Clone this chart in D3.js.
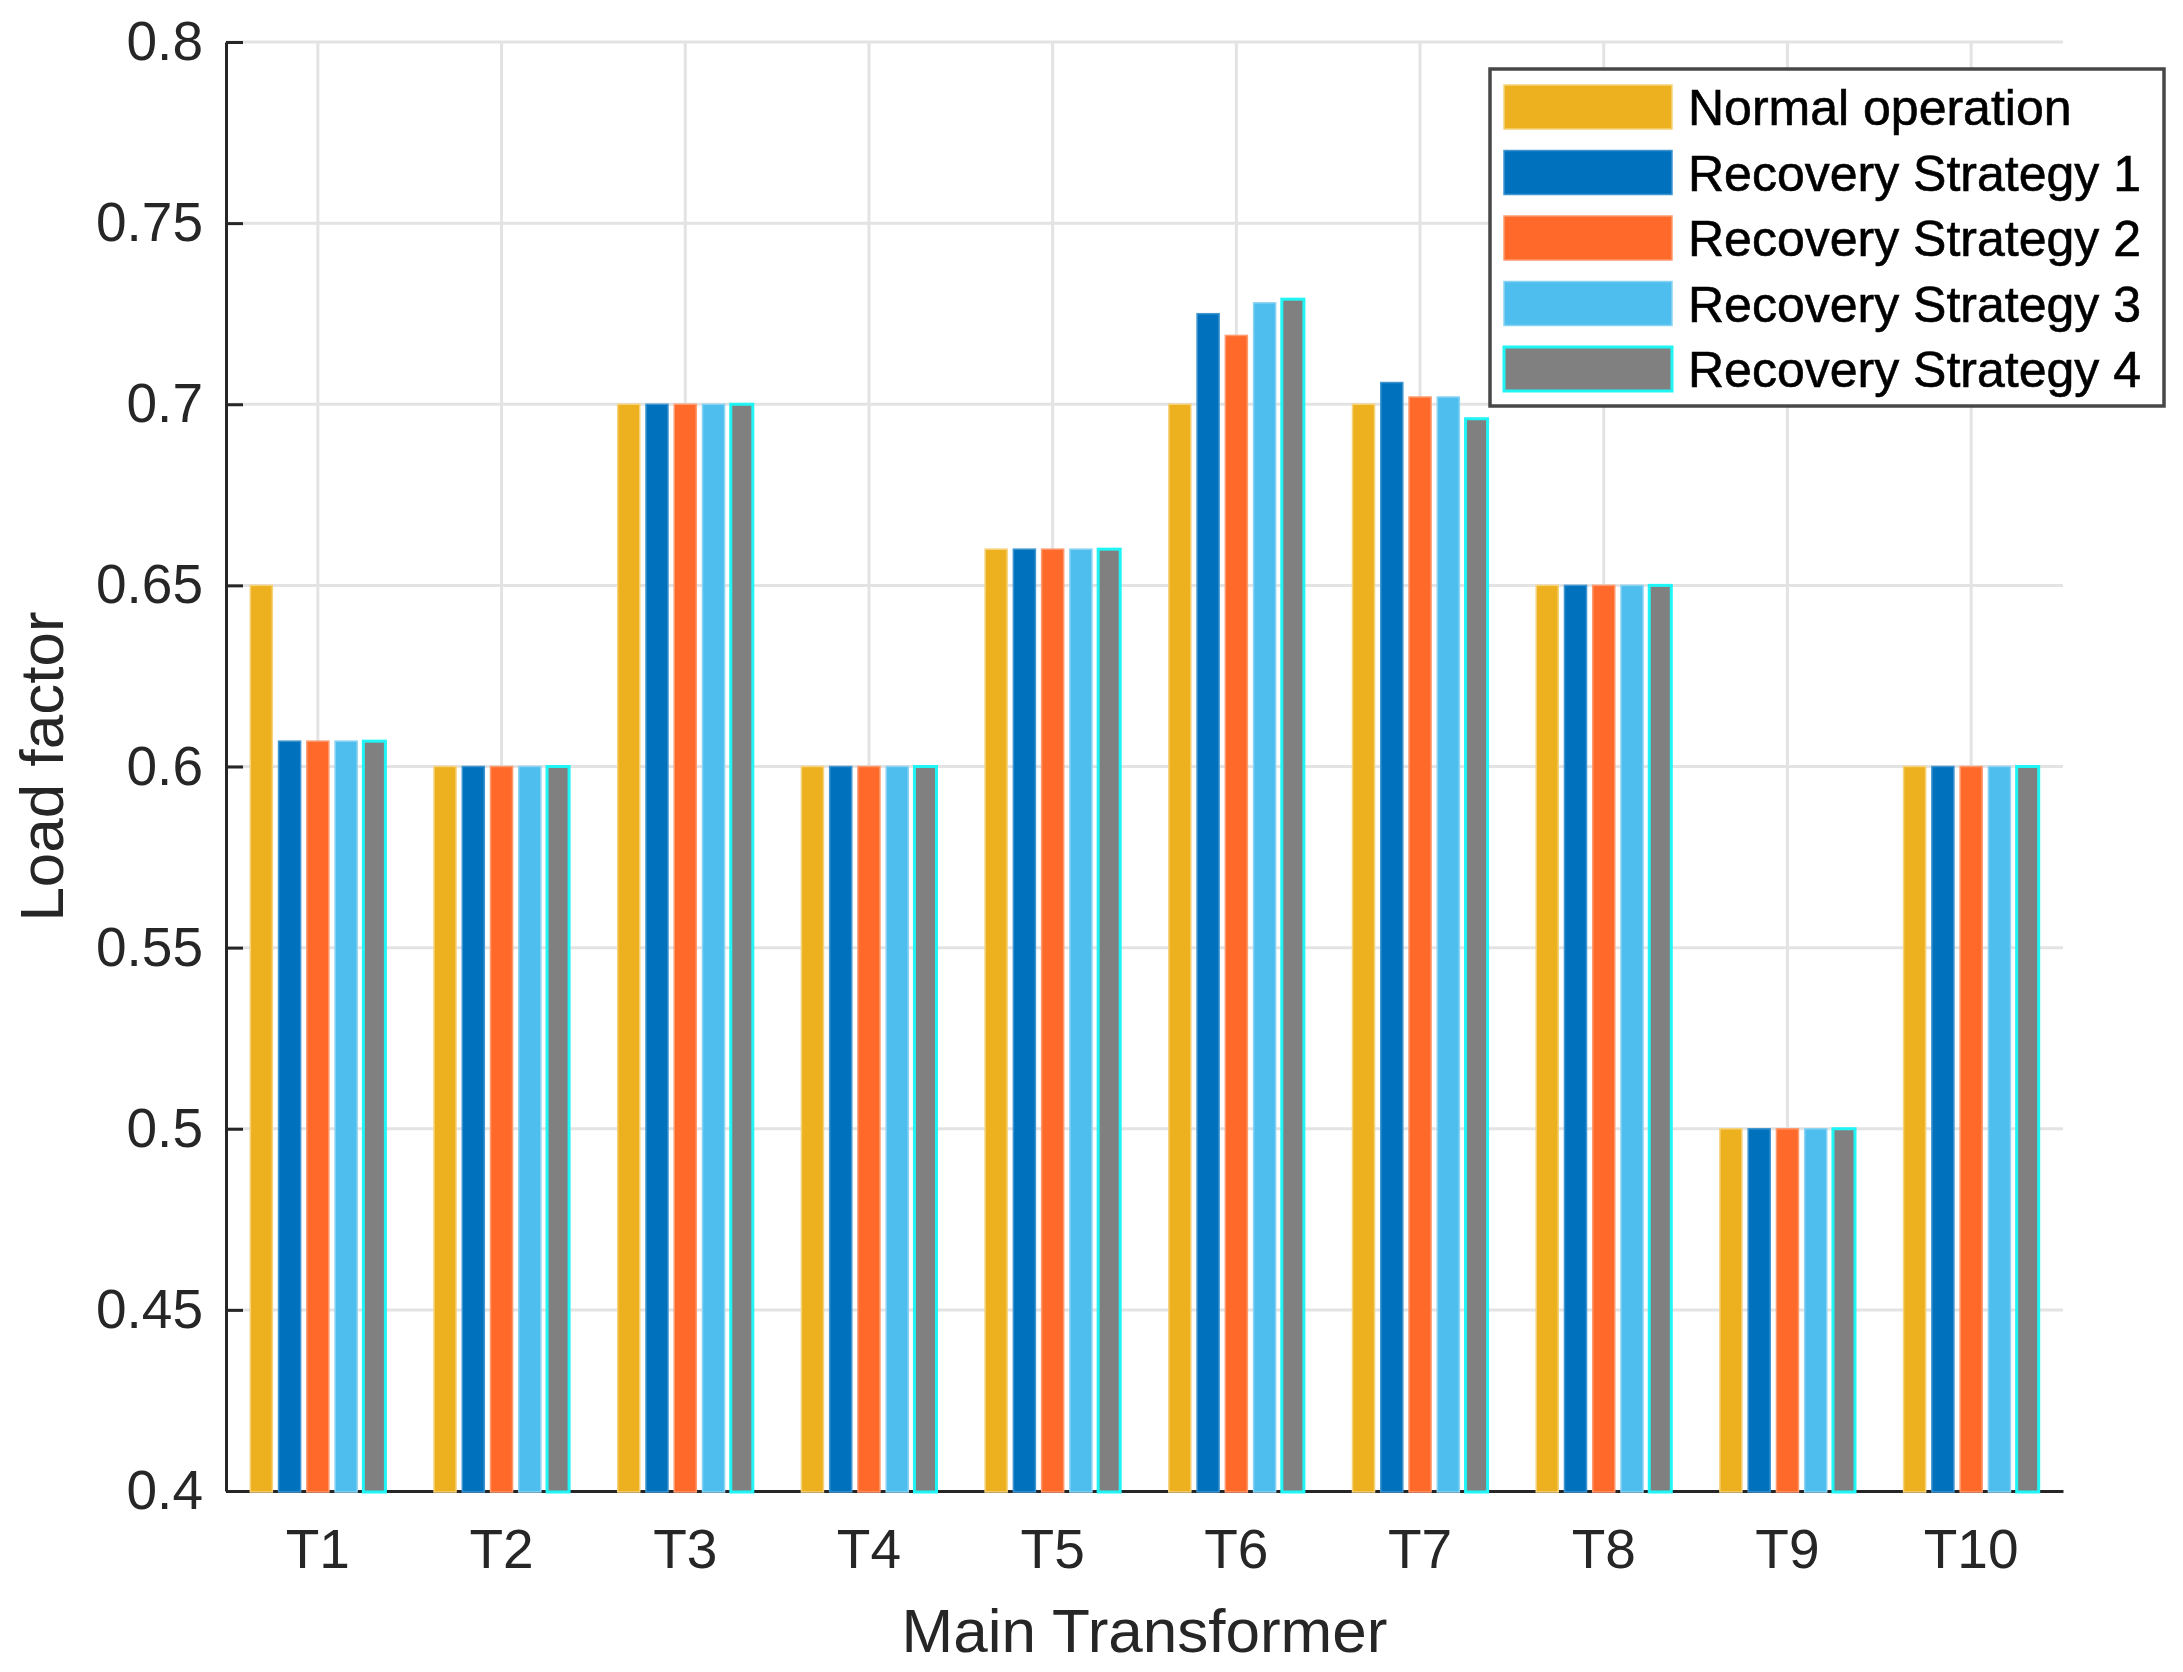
<!DOCTYPE html>
<html>
<head>
<meta charset="utf-8">
<script src="https://cdn.jsdelivr.net/npm/d3@7"></script>
<style>
  html, body { margin: 0; padding: 0; background: #fff; }
  svg { display: block; font-family: "Liberation Sans", Arial, Helvetica, sans-serif; }
</style>
</head>
<body>
<div id="chart"></div>
<script>
// data
var categories = ["T1", "T2", "T3", "T4", "T5", "T6", "T7", "T8", "T9", "T10"];
var seriesNames = ["Normal operation", "Recovery Strategy 1", "Recovery Strategy 2",
                   "Recovery Strategy 3", "Recovery Strategy 4"];
var normalOp  = [0.650, 0.600, 0.700, 0.600, 0.660, 0.700, 0.700, 0.650, 0.500, 0.600];
var strategy1 = [0.607, 0.600, 0.700, 0.600, 0.660, 0.725, 0.706, 0.650, 0.500, 0.600];
var strategy2 = [0.607, 0.600, 0.700, 0.600, 0.660, 0.719, 0.702, 0.650, 0.500, 0.600];
var strategy3 = [0.607, 0.600, 0.700, 0.600, 0.660, 0.728, 0.702, 0.650, 0.500, 0.600];
var strategy4 = [0.607, 0.600, 0.700, 0.600, 0.660, 0.729, 0.696, 0.650, 0.500, 0.600];
var yTicks = [0.4, 0.45, 0.5, 0.55, 0.6, 0.65, 0.7, 0.75, 0.8];

var allSeries = [normalOp, strategy1, strategy2, strategy3, strategy4];
var colors = ["#EDB120", "#0072BD", "#FF6A2B", "#4DBEEE", "#808080"];
var edges  = ["#F6D27A", "#3F95CF", "#FF9A6E", "#8AD3F3", "#1FF5F5"];

var width = 2183, height = 1672;
var margin = {top: 42, right: 120, bottom: 181, left: 226};
var plotW = width - margin.left - margin.right,
    plotH = height - margin.top - margin.bottom;

var svg = d3.select("#chart").append("svg")
    .attr("width", width)
    .attr("height", height);

var g = svg.append("g")
    .attr("transform", "translate(" + margin.left + "," + margin.top + ")");

var x0 = d3.scaleBand()
    .domain(categories)
    .range([0, plotW])
    .padding(0);

var groupW = x0.bandwidth() * 5 / 6.5;
var x1 = d3.scaleBand()
    .domain(d3.range(seriesNames.length))
    .range([0, groupW])
    .paddingInner(0.22)
    .paddingOuter(0.11);

var y = d3.scaleLinear()
    .domain([0.4, 0.8])
    .range([plotH, 0]);

// grid
g.append("g").attr("class", "grid-y")
  .selectAll("line")
  .data(yTicks.slice(1))
  .enter().append("line")
    .attr("x1", 0).attr("x2", plotW)
    .attr("y1", function(d) { return y(d); })
    .attr("y2", function(d) { return y(d); })
    .style("stroke", "#e3e3e3")
    .style("stroke-width", 3);

g.append("g").attr("class", "grid-x")
  .selectAll("line")
  .data(categories)
  .enter().append("line")
    .attr("x1", function(d) { return x0(d) + x0.bandwidth() / 2; })
    .attr("x2", function(d) { return x0(d) + x0.bandwidth() / 2; })
    .attr("y1", 0).attr("y2", plotH)
    .style("stroke", "#e3e3e3")
    .style("stroke-width", 3);

// bottom axis line sits under the bars
var xAxis = g.append("g")
    .attr("class", "x-axis")
    .attr("transform", "translate(0," + plotH + ")")
    .call(d3.axisBottom(x0).tickSize(0).tickSizeOuter(0).tickPadding(38));

xAxis.select(".domain").style("stroke", "#262626").style("stroke-width", 3);
xAxis.selectAll("text")
    .style("font-size", "55px")
    .style("fill", "#262626");

// bars
var groups = g.append("g").attr("class", "chart-group")
  .selectAll(".group")
  .data(categories)
  .enter().append("g")
    .attr("class", "group")
    .attr("transform", function(d) {
      return "translate(" + (x0(d) + (x0.bandwidth() - groupW) / 2) + ",0)";
    });

groups.selectAll("rect")
  .data(function(d, i) {
    return allSeries.map(function(s, k) { return {k: k, value: s[i]}; });
  })
  .enter().append("rect")
    .attr("x", function(d) { return x1(d.k); })
    .attr("width", x1.bandwidth())
    .attr("y", function(d) { return y(d.value); })
    .attr("height", function(d) { return plotH - y(d.value) + 1; })
    .style("fill", function(d) { return colors[d.k]; })
    .style("stroke", function(d) { return edges[d.k]; })
    .style("stroke-width", function(d) { return d.k === 4 ? 3 : 1.5; });

// left axis
var yAxis = g.append("g")
    .attr("class", "y-axis")
    .call(d3.axisLeft(y)
      .tickValues(yTicks)
      .tickFormat(d3.format("~g"))
      .tickSizeInner(-17)
      .tickSizeOuter(0)
      .tickPadding(23));

yAxis.select(".domain").style("stroke", "#262626").style("stroke-width", 3);
yAxis.selectAll(".tick line").style("stroke", "#262626").style("stroke-width", 3);
yAxis.selectAll("text")
    .style("font-size", "55px")
    .style("fill", "#262626");

// axis titles
svg.append("text")
    .attr("x", margin.left + plotW / 2)
    .attr("y", 1652)
    .attr("text-anchor", "middle")
    .style("font-size", "62px")
    .style("fill", "#262626")
    .text("Main Transformer");

svg.append("text")
    .attr("transform", "translate(63," + (margin.top + plotH / 2) + ") rotate(-90)")
    .attr("text-anchor", "middle")
    .style("font-size", "62px")
    .style("fill", "#262626")
    .text("Load factor");

// legend
var legend = svg.append("g")
    .attr("class", "legend")
    .attr("transform", "translate(1490,69)");

legend.append("rect")
    .attr("width", 674)
    .attr("height", 337)
    .style("fill", "#fff")
    .style("stroke", "#474747")
    .style("stroke-width", 3.5);

var items = legend.selectAll(".item")
  .data(seriesNames)
  .enter().append("g")
    .attr("class", "item")
    .attr("transform", function(d, i) { return "translate(0," + (38 + i * 65.5) + ")"; });

items.append("rect")
    .attr("x", 14)
    .attr("y", -22)
    .attr("width", 168)
    .attr("height", 44)
    .style("fill", function(d, i) { return colors[i]; })
    .style("stroke", function(d, i) { return edges[i]; })
    .style("stroke-width", function(d, i) { return i === 4 ? 3 : 1.5; });

items.append("text")
    .attr("x", 198)
    .attr("dy", "0.36em")
    .style("font-size", "50px")
    .style("fill", "#000")
    .style("stroke", "#000")
    .style("stroke-width", 0.6)
    .text(function(d) { return d; });
</script>
</body>
</html>
